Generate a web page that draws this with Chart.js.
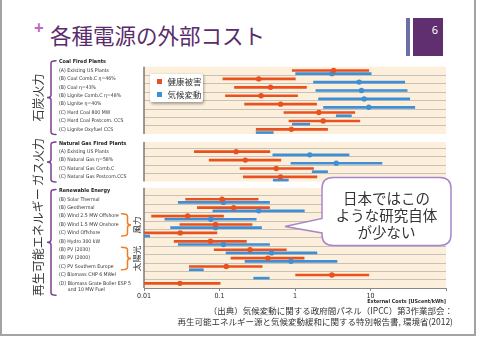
<!DOCTYPE html>
<html lang="ja">
<head>
<meta charset="utf-8">
<title>各種電源の外部コスト</title>
<script src="https://cdn.jsdelivr.net/npm/chart.js@4.4.1/dist/chart.umd.min.js"></script>
<style>
  html, body { margin: 0; padding: 0; background: #fff; }
  #slide { position: relative; width: 480px; height: 337px; overflow: hidden; font-family: 'Noto Sans CJK JP', 'Noto Sans', sans-serif; color: #333; }
  #chartWrap { position: absolute; left: 0; top: 0; width: 480px; height: 337px; }
  .frame { position: absolute; left: 0; top: -3px; width: 476px; height: 339px; box-sizing: border-box; border: 2px solid #a3a3a3; }
  .plus { position: absolute; left: 34px; top: 19px; font: bold 17px/1 'Noto Sans', sans-serif; color: #c266c4; }
  .title { position: absolute; left: 50px; top: 24px; font-size: 21.5px; line-height: 1; color: #5b2c6d; white-space: nowrap; }
  .page-stripe { position: absolute; left: 406px; top: 18px; width: 4px; height: 38px; background: #6c6ea6; }
  .page-box { position: absolute; left: 413px; top: 18px; width: 30px; height: 38px; background: #5f2f6f; color: #fff; font: 11px/1 'Noto Sans', sans-serif; text-align: right; box-sizing: border-box; padding: 6px 5px 0 0; }
  #legend { position: absolute; left: 150px; top: 73.5px; width: 53px; height: 28px; background: #fff; border-radius: 2px; box-shadow: 1px 1.5px 3px rgba(0,0,0,0.35); padding: 1px 0 0 7px; box-sizing: border-box; font-size: 8.5px; line-height: 13px; }
  .legend-item { display: flex; align-items: center; white-space: nowrap; }
  .legend-item i { width: 5px; height: 5px; margin-right: 5.5px; display: inline-block; }
  .callout { position: absolute; left: 0; top: 0; width: 480px; height: 337px; pointer-events: none; }
  .callout-text { position: absolute; left: 322px; top: 188.5px; width: 129px; text-align: center; font-size: 14.5px; line-height: 17px; color: #333; white-space: nowrap; }
  .source { position: absolute; right: 27px; top: 304.5px; font-size: 8.5px; line-height: 11.8px; text-align: right; color: #333; white-space: nowrap; }
</style>
</head>
<body>
<div id="slide">
  <div class="frame"></div>
  <div class="plus">+</div>
  <div class="title">各種電源の外部コスト</div>
  <div class="page-stripe"></div>
  <div class="page-box">6</div>
  <div id="chartWrap"><canvas id="chart"></canvas></div>
  <div id="legend"></div>
  <svg class="callout" viewBox="0 0 480 337">
    <path d="M 333 177.5 H 440 Q 451 177.5 451 188.5 V 234.5 Q 451 245.5 440 245.5 H 333 Q 322 245.5 322 234.5 V 233 L 285 226.5 L 322 218.5 V 188.5 Q 322 177.5 333 177.5 Z"
          fill="#fff" stroke="#a987c6" stroke-width="1.5"/>
  </svg>
  <div class="callout-text">日本ではこの<br>ような研究自体<br>が少ない</div>
  <div class="source">（出典）気候変動に関する政府間パネル（IPCC）第3作業部会：<br>再生可能エネルギー源と気候変動緩和に関する特別報告書, 環境省(2012)</div>
</div>

<script>
// ---- data (external costs, US cent/kWh) ----
const groupTitles = ['Coal Fired Plants', 'Natural Gas Fired Plants', 'Renewable Energy'];
const groupNames = ['石炭火力', 'ガス火力', '再生可能エネルギー'];
const groupSizes = [8, 4, 11];

const plants = [
    '(A) Existing US Plants', '(B) Coal Comb.C η=46%', '(B) Coal η=43%', '(B) Lignite Comb.C η=48%',
    '(B) Lignite η=40%', '(C) Hard Coal 800 MW', '(C) Hard Coal Postcom. CCS', '(C) Lignite Oxyfuel CCS',
    '(A) Existing US Plants', '(B) Natural Gas η=58%', '(C) Natural Gas Comb.C', '(C) Natural Gas Postcom.CCS',
    '(B) Solar Thermal', '(B) Geothermal', '(B) Wind 2.5 MW Offshore', '(B) Wind 1.5 MW Onshore',
    '(C) Wind Offshore', '(B) Hydro 300 kW', '(B) PV (2030)', '(B) PV (2000)', '(C) PV Southern Europe',
    '(C) Biomass CHP 6 MWel', ['(D) Biomass Grate Boiler ESP 5', '      and 10 MW Fuel']
];

// sub-groups inside the renewables (first and last plant index)
const subGroupNames = ['風力', '太陽光'];
const subGroupFirst = [14, 18];
const subGroupLast = [16, 20];

const seriesNames = ['健康被害', '気候変動'];

const healthLow  = [0.92, 0.111, 0.158, 0.120, 0.215, 0.714, 0.832, 0.306, 0.0464, 0.073, 0.187, 0.207, 0.0356, 0.0509, 0.0126, 0.0299, 0.0099, 0.0251, 0.085, 0.142, 0.0398, 1.02, 0.0099];
const healthMid  = [3.25, 0.331, 0.474, 0.356, 0.645, 2.07, 2.36, 0.895, 0.166, 0.220, 0.565, 0.645, 0.108, 0.154, 0.0379, 0.0885, 0.0302, 0.0759, 0.254, 0.437, 0.123, 3.08, 0.0299];
const healthHigh = [9.5, 1.01, 1.42, 1.08, 1.93, 6.19, 7.22, 2.70, 0.464, 0.65, 1.76, 1.95, 0.325, 0.46, 0.113, 0.270, 0.0923, 0.227, 0.768, 1.32, 0.367, 9.5, 0.102];

const climateLow  = [1.02, 1.76, 1.89, 2.05, 2.39, 3.52, 0.923, 0.306, 0.509, 0.885, 1.69, 0.515, 0.0284, 0.0817, 0.0189, 0.0225, 0.006, 0.0284, 0.122, 0.218, 0.0398, 0.284, null];
const climateMid  = [3.08, 7.07, 7.59, 8.24, 9.5, null, null, null, 1.57, 3.52, null, null, 0.113, 0.331, 0.0768, 0.0885, null, 0.113, 0.489, 0.885, null, null, null];
const climateHigh = [10.2, 28.4, 30.6, 33.1, 38.6, 5.58, 1.57, 0.515, 5.2, 14.2, 2.70, 0.816, 0.46, 1.33, 0.306, 0.36, 0.0119, 0.46, 1.95, 3.6, 0.0612, 0.456, null];

const xTickValues = [0.01, 0.1, 1, 10, 100];
const xTickLabels = ['0.01', '0.1', '1', '10', ''];

// ---- styling / layout ----
const RED = '#e9511f';
const BLUE = '#3f8fd6';
const PURPLE = '#7d3f8f';
const ORANGE = '#f27d22';
const BAND = '#fcf0dc';
const SEP = '#c8c1b8';

const GROUP_GAP = 1.65;     // y units between last row of a group and next title
const BLUE_SHIFT = 0.38;    // climate line sits a little under the health line
const BAND_TOP = [0.45, 1.15, 1.35];

// The original labels use a condensed face; take the narrowest one that is installed
// and size it so a reference label keeps the original width.
const measureCtx = document.createElement('canvas').getContext('2d');
function textWidth(font, text) {
    measureCtx.font = font;
    return measureCtx.measureText(text).width;
}
function pickFamily(candidates) {
    const probe = 'Wind Offshore 2.5 MW';
    const fallback = textWidth('20px monospace', probe);
    for (const f of candidates) {
        if (Math.abs(textWidth(`20px '${f}', monospace`, probe) - fallback) > 0.5) return `'${f}'`;
    }
    return 'sans-serif';
}
function fitSize(family, weight, text, target, maxSize) {
    const w = textWidth(`${weight} 20px ${family}`, text);
    return Math.min(maxSize, 20 * target / w);
}
const NARROW = pickFamily(['Liberation Sans Narrow', 'Arial Narrow', 'DejaVu Sans Condensed', 'Roboto']);
const LABEL_SIZE = fitSize(NARROW, 'normal', '(B) Wind 2.5 MW Offshore', 60, 6.8);
const TITLE_SIZE = fitSize(NARROW, 'bold', 'Coal Fired Plants', 47, 7.5);
const AXIS_TITLE_SIZE = fitSize(NARROW, 'bold', 'External Costs [UScent/kWh]', 79, 7);

// Row positions on the y axis
const titlePos = [];
const rowPos = [];
const groupFirst = [];
const groupLast = [];
let pos = 0;
groupSizes.forEach(n => {
    titlePos.push(pos);
    groupFirst.push(rowPos.length);
    for (let i = 0; i < n; i++) rowPos.push(pos + 1 + i);
    groupLast.push(rowPos.length - 1);
    pos += n + GROUP_GAP;
});

// y tick list: group titles and plant names
const yTicks = [];
groupTitles.forEach((t, g) => yTicks.push({ pos: titlePos[g], text: t, title: true }));
plants.forEach((p, i) => {
    const extra = Array.isArray(p) ? (p.length - 1) * 0.44 : 0;
    yTicks.push({ pos: rowPos[i] + extra, text: p, title: false });
});
yTicks.sort((a, b) => a.pos - b.pos);

function ranges(lo, hi, shift) {
    return lo.map((v, i) => v == null ? null : { y: rowPos[i] + shift, x: [v, hi[i]] }).filter(Boolean);
}

function mids(mid, shift) {
    return mid.map((v, i) => v == null ? null : { x: v, y: rowPos[i] + shift }).filter(Boolean);
}

// bands, separators, braces and group names
const rowDecor = {
    id: 'rowDecor',
    beforeDraw(chart) {
        const { ctx, chartArea: a, scales: { y } } = chart;
        ctx.save();
        groupSizes.forEach((n, g) => {
            const topVal = rowPos[groupFirst[g]] - BAND_TOP[g];
            const top = y.getPixelForValue(topVal);
            const bottom = y.getPixelForValue(rowPos[groupLast[g]] + 0.55);
            ctx.fillStyle = BAND;
            ctx.fillRect(a.left, top, a.right - a.left, bottom - top);

            ctx.strokeStyle = SEP;
            ctx.lineWidth = 1;
            for (let i = groupFirst[g]; i <= groupLast[g]; i++) {
                const v = rowPos[i] - 0.47;
                if (v <= topVal) continue;
                const yy = Math.round(y.getPixelForValue(v)) + 0.5;
                ctx.beginPath();
                ctx.moveTo(a.left, yy);
                ctx.lineTo(a.right, yy);
                ctx.stroke();
            }

            ctx.strokeStyle = '#7a7a7a';
            ctx.lineWidth = 1.5;
            ctx.beginPath();
            ctx.moveTo(a.left, top);
            ctx.lineTo(a.left, bottom);
            ctx.stroke();
        });
        ctx.restore();
    },
    afterDraw(chart) {
        const { ctx, scales: { y } } = chart;
        ctx.save();
        ctx.lineWidth = 1.5;
        ctx.lineCap = 'round';

        // purple braces + rotated group names
        groupSizes.forEach((n, g) => {
            const last = plants[groupLast[g]];
            const extraLines = Array.isArray(last) ? last.length - 1 : 0;
            const top = y.getPixelForValue(titlePos[g] - 0.15);
            const bottom = y.getPixelForValue(rowPos[groupLast[g]] + 0.6 + extraLines * 0.8);
            drawBrace(ctx, 51, top, bottom, 5, -4, PURPLE);

            ctx.save();
            ctx.translate(38.5, (top + bottom) / 2);
            ctx.rotate(-Math.PI / 2);
            ctx.fillStyle = '#3a3a3a';
            ctx.font = "12px 'Noto Sans CJK JP'";
            ctx.textAlign = 'center';
            ctx.textBaseline = 'middle';
            ctx.fillText(groupNames[g], 0, 0);
            ctx.restore();
        });

        // orange braces for wind / solar
        subGroupNames.forEach((name, s) => {
            const top = y.getPixelForValue(rowPos[subGroupFirst[s]] - 0.28);
            const bottom = y.getPixelForValue(rowPos[subGroupLast[s]] + 0.38);
            drawBrace(ctx, 127.5, top, bottom, -6, 3.5, ORANGE);

            ctx.save();
            ctx.translate(136.5, (top + bottom) / 2);
            ctx.rotate(-Math.PI / 2);
            ctx.fillStyle = '#333';
            ctx.font = "8.5px 'Noto Sans CJK JP'";
            ctx.textAlign = 'center';
            ctx.textBaseline = 'middle';
            ctx.fillText(name, 0, 0);
            ctx.restore();
        });
        ctx.restore();
    }
};

// hook: horizontal length of the end hooks, tip: horizontal offset of the middle point
function drawBrace(ctx, x, top, bottom, hook, tip, color) {
    const mid = (top + bottom) / 2;
    const r = 2.5;
    ctx.strokeStyle = color;
    ctx.beginPath();
    ctx.moveTo(x + hook, top);
    ctx.quadraticCurveTo(x, top, x, top + r);
    ctx.lineTo(x, mid - r);
    ctx.quadraticCurveTo(x, mid, x + tip, mid);
    ctx.quadraticCurveTo(x, mid, x, mid + r);
    ctx.lineTo(x, bottom - r);
    ctx.quadraticCurveTo(x, bottom, x + hook, bottom);
    ctx.stroke();
}

// HTML legend
const legendColors = [RED, BLUE];
document.getElementById('legend').innerHTML = seriesNames
    .map((n, i) => `<div class="legend-item"><i style="background:${legendColors[i]}"></i>${n}</div>`)
    .join('');

const chart = new Chart(document.getElementById('chart'), {
    type: 'bar',
    data: {
        datasets: [
            { type: 'scatter', label: seriesNames[0], data: mids(healthMid, 0), backgroundColor: RED, pointRadius: 2.7, borderWidth: 0, order: 0 },
            { type: 'scatter', label: seriesNames[1], data: mids(climateMid, BLUE_SHIFT), backgroundColor: BLUE, pointRadius: 2.7, borderWidth: 0, order: 0 },
            { label: seriesNames[0], data: ranges(healthLow, healthHigh, 0), indexAxis: 'y', grouped: false, barThickness: 2, backgroundColor: RED, clip: 0, order: 1 },
            { label: seriesNames[1], data: ranges(climateLow, climateHigh, BLUE_SHIFT), indexAxis: 'y', grouped: false, barThickness: 2, backgroundColor: BLUE, clip: 0, order: 1 }
        ]
    },
    options: {
        responsive: true,
        maintainAspectRatio: false,
        animation: false,
        layout: { padding: { left: 59, right: 34, top: 57, bottom: 32 } },
        plugins: {
            legend: { display: false },
            tooltip: { enabled: false }
        },
        scales: {
            x: {
                type: 'logarithmic',
                position: 'bottom',
                min: 0.01,
                max: 100,
                offset: false,
                afterBuildTicks: s => { s.ticks = xTickValues.map(v => ({ value: v })); },
                afterFit: s => { s.height = 17; },
                grid: { offset: false, drawOnChartArea: false, drawTicks: true, tickLength: 3, color: '#888' },
                border: { display: true, color: '#888', width: 1 },
                ticks: {
                    autoSkip: false,
                    maxRotation: 0,
                    padding: 1,
                    color: '#2a2a2a',
                    font: { family: NARROW, size: 7 },
                    callback: (v, i) => xTickLabels[i]
                },
                title: {
                    display: true,
                    text: 'External Costs [UScent/kWh]',
                    align: 'end',
                    color: '#2a2a2a',
                    padding: 0,
                    font: { family: NARROW, size: AXIS_TITLE_SIZE, weight: 'bold' }
                }
            },
            y: {
                type: 'linear',
                position: 'left',
                reverse: true,
                bounds: 'data',
                min: -0.6,
                max: 26.85,
                offset: false,
                afterBuildTicks: s => { s.ticks = yTicks.map(t => ({ value: t.pos })); },
                afterFit: s => { s.width = 85; },
                grid: { display: false, offset: false },
                border: { display: false },
                ticks: {
                    autoSkip: false,
                    crossAlign: 'far',
                    padding: 0,
                    color: c => yTicks[c.index] && yTicks[c.index].title ? '#222' : '#333',
                    font: c => (yTicks[c.index] && yTicks[c.index].title)
                        ? { family: NARROW, size: TITLE_SIZE, weight: 'bold' }
                        : { family: NARROW, size: LABEL_SIZE },
                    callback: (v, i) => yTicks[i].text
                }
            }
        }
    },
    plugins: [rowDecor]
});
</script>
</body>
</html>
